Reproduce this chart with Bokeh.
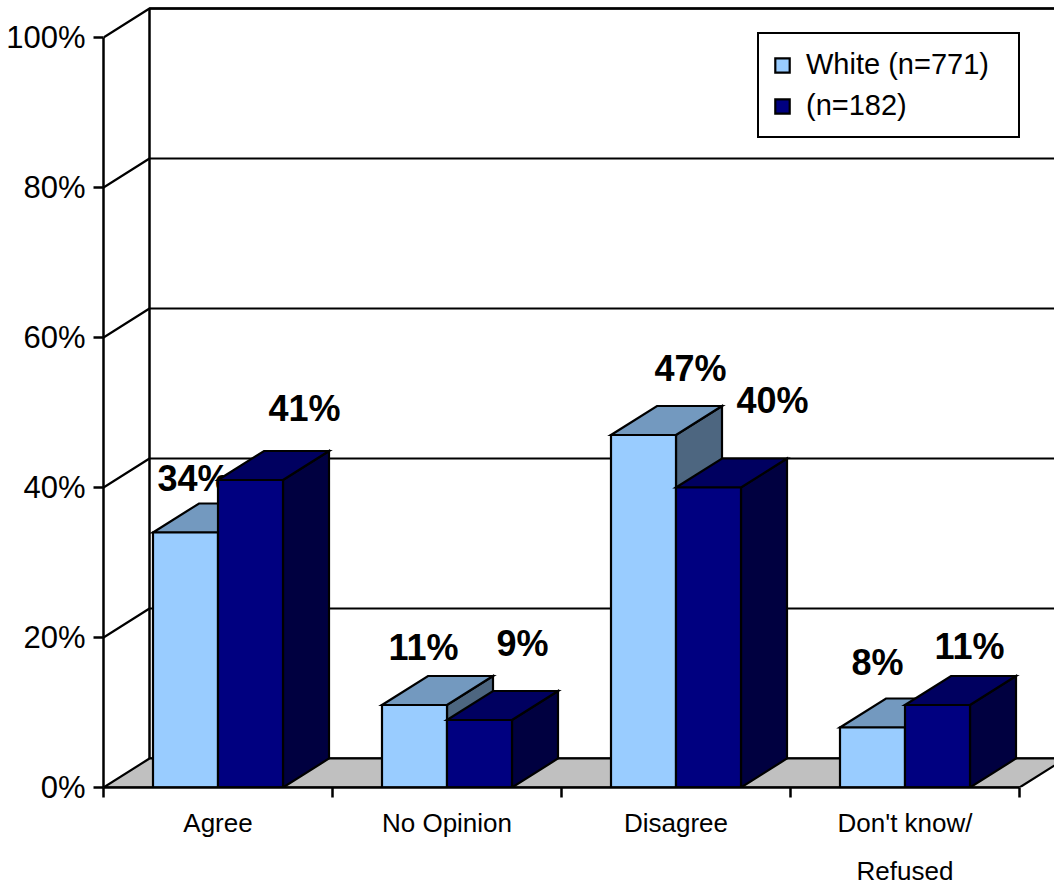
from bokeh.plotting import figure
from bokeh.models import Range1d, FixedTicker, Legend, LegendItem, ColumnDataSource
from bokeh.core.properties import value
from bokeh.embed import file_html
from bokeh.resources import INLINE

# ---------------- data ----------------
categories = ["Agree", "No Opinion", "Disagree", "Don't know/\nRefused"]
white_vals = [34, 11, 47, 8]
other_vals = [41, 9, 40, 11]
series_names = ["White (n=771)", "(n=182)"]
y_ticks = [0, 20, 40, 60, 80, 100]

# label nudges in screen px (x from bar-front centre, y above bar top)
white_nudge_x = [8, 9, 47, 5]
white_nudge_y = [54, 58, 67, 65]
other_nudge_x = [54, 43, 64, 32]
other_nudge_y = [72, 77, 87, 59]

# ---------------- layout ----------------
W, H = 1054, 889
LEFT, BOTTOM = 103, 102
FRAME_W, FRAME_H = W - LEFT, H - BOTTOM
PX_CAT = 229.0
X_END = FRAME_W / PX_CAT
PX_Y = 7.5
Y_END = FRAME_H / PX_Y
DX = 46.0 / PX_CAT
DY = 29.0 / PX_Y
BAR_W = 65.0 / PX_CAT
N = len(categories)

FONT = "Liberation Sans"

p = figure(width=W, height=H, output_backend="svg", toolbar_location=None,
           x_range=Range1d(0, X_END), y_range=Range1d(0, Y_END),
           min_border_left=LEFT, min_border_bottom=BOTTOM,
           min_border_top=0, min_border_right=0)
p.outline_line_color = None
p.xgrid.visible = False
p.ygrid.visible = False
p.background_fill_color = "white"

# back wall
p.quad(left=[DX], right=[X_END + 1], bottom=[DY], top=[100 + DY],
       fill_color="white", line_color="black", line_width=2.5)

# gridlines (side wall + back wall)
gx, gy = [], []
for v in y_ticks[1:]:
    gx.append([0, DX, X_END + 1])
    gy.append([v, v + DY, v + DY])
p.multi_line(gx, gy, line_color="black", line_width=2.2)

# floor
p.patch([0, N, N + DX, DX], [0, 0, DY, DY], fill_color="#C0C0C0",
        line_color="black", line_width=2.2)


def draw_series(vals, offset, front, top, side, nx, ny):
    xs_side, ys_side, xs_top, ys_top = [], [], [], []
    lefts, rights = [], []
    for i, v in enumerate(vals):
        c = i + 0.5
        x0 = c + offset * BAR_W
        x1 = x0 + BAR_W
        lefts.append(x0)
        rights.append(x1)
        xs_side.append([x1, x1 + DX, x1 + DX, x1])
        ys_side.append([0, DY, v + DY, v])
        xs_top.append([x0, x1, x1 + DX, x0 + DX])
        ys_top.append([v, v, v + DY, v + DY])
    p.patches(xs_side, ys_side, fill_color=side, line_color="black",
              line_width=2.2, line_join="miter")
    p.patches(xs_top, ys_top, fill_color=top, line_color="black",
              line_width=2.2, line_join="miter")
    r = p.quad(left=lefts, right=rights, bottom=[0] * len(vals), top=vals,
               fill_color=front, line_color="black", line_width=2.2,
               line_join="miter")
    src = ColumnDataSource(dict(
        x=[(l + rr) / 2 for l, rr in zip(lefts, rights)],
        y=vals,
        t=[f"{v}%" for v in vals],
        xo=nx,
        yo=[-d for d in ny],
    ))
    p.text(x="x", y="y", text="t", x_offset="xo", y_offset="yo", source=src,
           text_align="center", text_baseline="alphabetic",
           text_font=value(FONT), text_font_style="bold",
           text_font_size="36px", text_color="black")
    return r


r_white = draw_series(white_vals, -1, "#99CCFF", "#7399BF", "#4D6680",
                      white_nudge_x, white_nudge_y)
r_other = draw_series(other_vals, 0, "#000080", "#000060", "#000040",
                      other_nudge_x, other_nudge_y)

# axes
ya = p.yaxis[0]
ya.ticker = FixedTicker(ticks=y_ticks)
ya.major_label_overrides = {v: f"{v}%" for v in y_ticks}
ya.bounds = (0, 100)
ya.axis_line_width = 2.5
ya.axis_line_color = "black"
ya.major_tick_out = 10
ya.major_tick_in = 0
ya.major_tick_line_width = 2.5
ya.minor_tick_line_color = None
ya.major_label_text_font = FONT
ya.major_label_text_font_size = "31px"
ya.major_label_text_color = "black"
ya.major_label_standoff = 8

xa = p.xaxis[0]
xa.ticker = FixedTicker(ticks=[i + 0.5 for i in range(N)],
                        minor_ticks=list(range(N + 1)))
xa.major_label_overrides = {i + 0.5: c for i, c in enumerate(categories)}
xa.bounds = (0, N)
xa.axis_line_width = 2.5
xa.axis_line_color = "black"
xa.major_tick_out = 0
xa.major_tick_in = 0
xa.minor_tick_out = 10
xa.minor_tick_in = 0
xa.minor_tick_line_width = 2.5
xa.minor_tick_line_color = "black"
xa.major_label_text_font = FONT
xa.major_label_text_font_size = "26px"
xa.major_label_text_color = "black"
xa.major_label_text_line_height = 1.6
xa.major_label_standoff = 10

legend = Legend(items=[LegendItem(label=series_names[0], renderers=[r_white]),
                       LegendItem(label=series_names[1], renderers=[r_other])],
                location=(654, 649))
legend.border_line_color = "black"
legend.border_line_alpha = 1
legend.border_line_width = 2
legend.background_fill_color = "white"
legend.background_fill_alpha = 1
legend.label_text_font = FONT
legend.label_text_font_size = "29px"
legend.label_text_color = "black"
legend.glyph_width = 18
legend.glyph_height = 18
legend.label_standoff = 15
legend.label_width = 198
legend.padding = 14
legend.spacing = 8
legend.margin = 0
p.add_layout(legend)

open("out.html", "w").write(file_html(p, INLINE))
